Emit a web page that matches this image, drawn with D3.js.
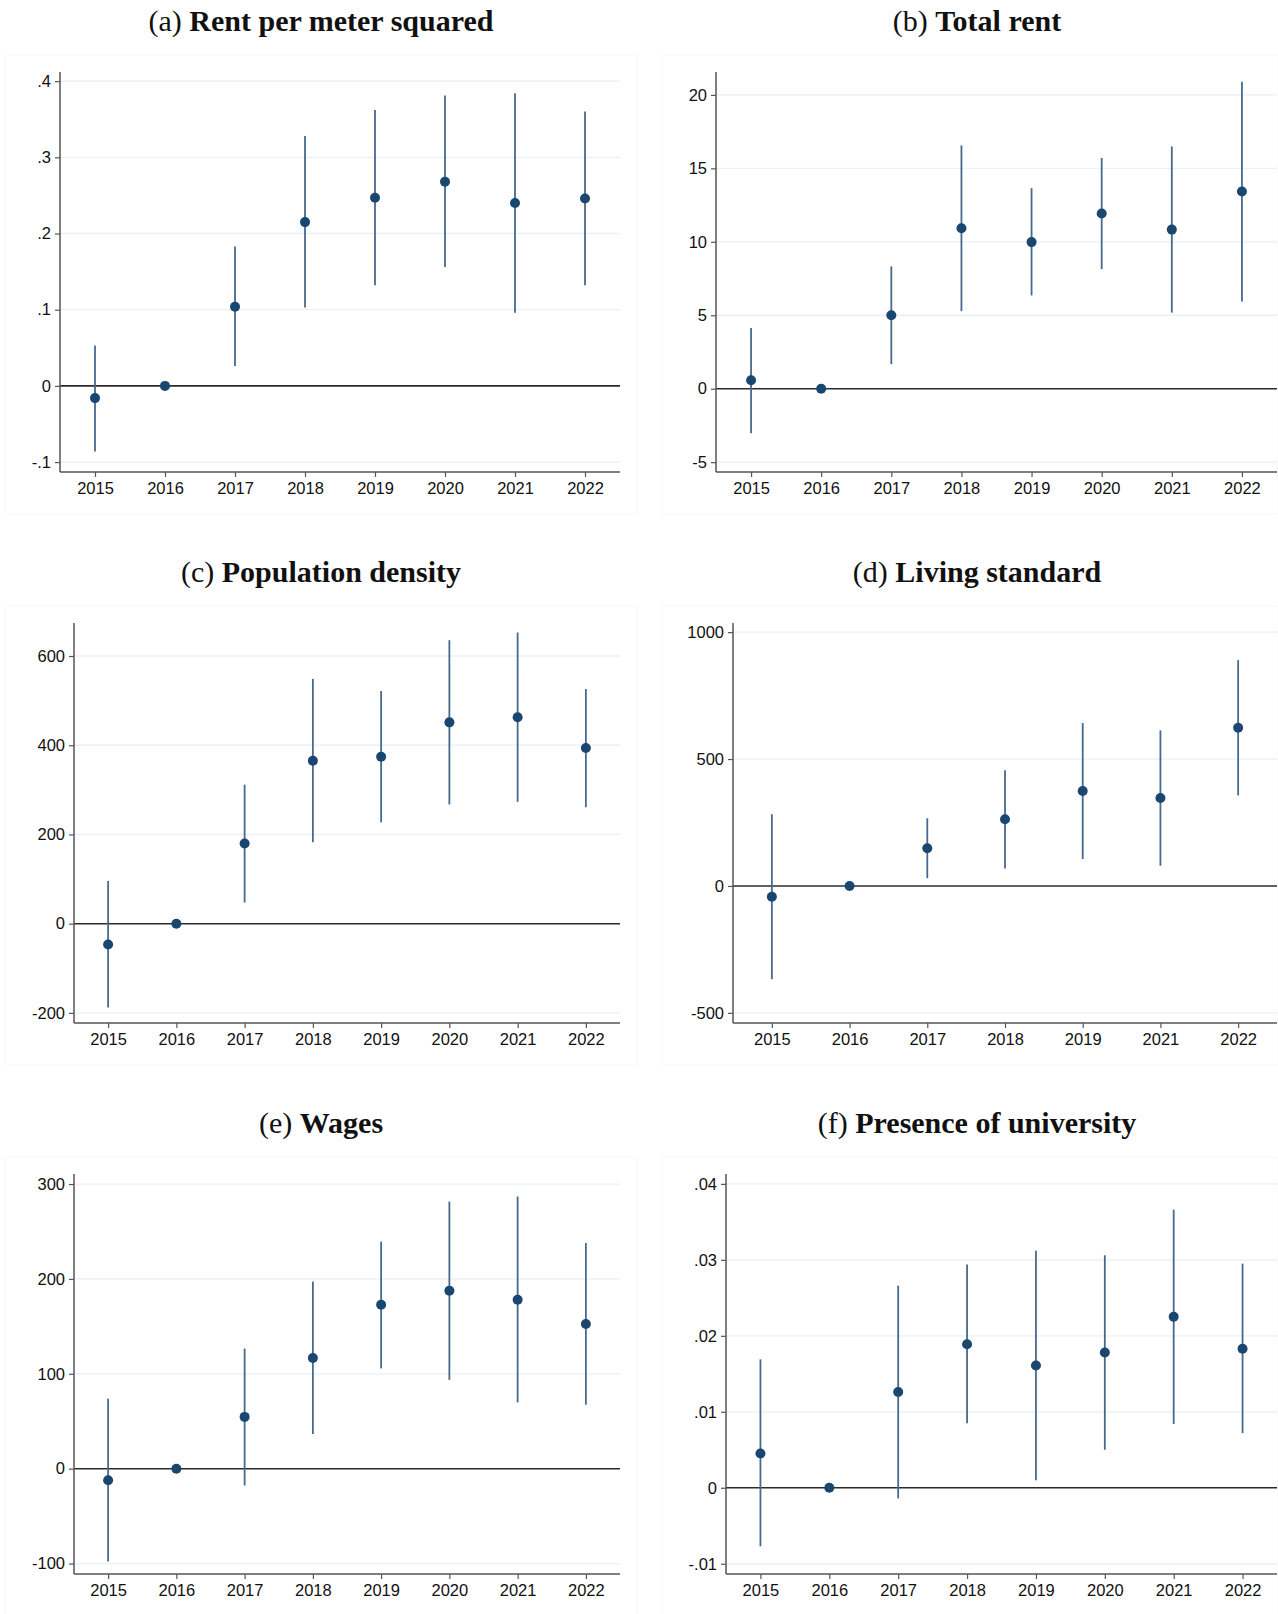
<!DOCTYPE html>
<html><head><meta charset="utf-8">
<script src="https://cdn.jsdelivr.net/npm/d3@7"></script>
<style>body{margin:0;background:#fff} svg{display:block}</style>
</head><body>
<svg id="chart" width="1278" height="1614"></svg>
<script>
// ---------- data ----------
const years = ["2015","2016","2017","2018","2019","2020","2021","2022"];
const yearsLiving = ["2015","2016","2017","2018","2019","2021","2022"];

const panelLetters = ["(a)","(b)","(c)","(d)","(e)","(f)"];
const panelNames = ["Rent per meter squared","Total rent","Population density","Living standard","Wages","Presence of university"];

const rentSqmEst = [-0.016, 0, 0.104, 0.215, 0.247, 0.268, 0.240, 0.246];
const rentSqmLo  = [-0.086, 0, 0.026, 0.103, 0.132, 0.156, 0.096, 0.132];
const rentSqmHi  = [ 0.053, 0, 0.183, 0.328, 0.362, 0.381, 0.384, 0.360];
const rentSqmTicks = [-0.1, 0, 0.1, 0.2, 0.3, 0.4];
const rentSqmTickLabels = ["-.1","0",".1",".2",".3",".4"];
const rentSqmRange = [-0.113, 0.412];

const totalRentEst = [0.57, 0, 5.0, 10.92, 9.98, 11.93, 10.83, 13.42];
const totalRentLo  = [-3.03, 0, 1.67, 5.28, 6.35, 8.14, 5.18, 5.94];
const totalRentHi  = [4.13, 0, 8.33, 16.56, 13.65, 15.71, 16.49, 20.89];
const totalRentTicks = [-5, 0, 5, 10, 15, 20];
const totalRentTickLabels = ["-5","0","5","10","15","20"];
const totalRentRange = [-5.67, 21.56];

const popDensityEst = [-46.8, 0, 179.6, 365.3, 374.3, 451.3, 462.6, 394];
const popDensityLo  = [-187.9, 0, 47.5, 182.6, 227.2, 267.2, 273.2, 261.1];
const popDensityHi  = [95.8, 0, 311.7, 548.7, 521.5, 635.5, 652.8, 526];
const popDensityTicks = [-200, 0, 200, 400, 600];
const popDensityTickLabels = ["-200","0","200","400","600"];
const popDensityRange = [-222.6, 674];

const livingEst = [-42.4, 0, 148.5, 262.6, 374, 346.2, 623.3];
const livingLo  = [-367.4, 0, 30.5, 69, 106.1, 79.6, 356.8];
const livingHi  = [282.5, 0, 266.6, 456.2, 641.9, 612.7, 889.9];
const livingTicks = [-500, 0, 500, 1000];
const livingTickLabels = ["-500","0","500","1000"];
const livingRange = [-540, 1036];

const wagesEst = [-12.1, 0, 54.6, 116.7, 172.7, 187.6, 178, 152.5];
const wagesLo  = [-97.8, 0, -17.7, 36.5, 105.7, 93.6, 69.9, 67.4];
const wagesHi  = [73.8, 0, 126.6, 197.2, 239.4, 281.6, 286.9, 237.9];
const wagesTicks = [-100, 0, 100, 200, 300];
const wagesTickLabels = ["-100","0","100","200","300"];
const wagesRange = [-111, 310.6];

const univEst = [0.0045, 0, 0.0126, 0.0189, 0.0161, 0.0178, 0.0225, 0.0183];
const univLo  = [-0.0077, 0, -0.0014, 0.0085, 0.0010, 0.0050, 0.0084, 0.0072];
const univHi  = [0.0169, 0, 0.0266, 0.0294, 0.0312, 0.0306, 0.0366, 0.0295];
const univTicks = [-0.01, 0, 0.01, 0.02, 0.03, 0.04];
const univTickLabels = ["-.01","0",".01",".02",".03",".04"];
const univRange = [-0.01135, 0.0413];

// ---------- panel table built from the arrays ----------
const panels = [
  {cats: years,       est: rentSqmEst,    lo: rentSqmLo,    hi: rentSqmHi,    ticks: rentSqmTicks,    labels: rentSqmTickLabels,    range: rentSqmRange},
  {cats: years,       est: totalRentEst,  lo: totalRentLo,  hi: totalRentHi,  ticks: totalRentTicks,  labels: totalRentTickLabels,  range: totalRentRange},
  {cats: years,       est: popDensityEst, lo: popDensityLo, hi: popDensityHi, ticks: popDensityTicks, labels: popDensityTickLabels, range: popDensityRange},
  {cats: yearsLiving, est: livingEst,     lo: livingLo,     hi: livingHi,     ticks: livingTicks,     labels: livingTickLabels,     range: livingRange},
  {cats: years,       est: wagesEst,      lo: wagesLo,      hi: wagesHi,      ticks: wagesTicks,      labels: wagesTickLabels,      range: wagesRange},
  {cats: years,       est: univEst,       lo: univLo,       hi: univHi,       ticks: univTicks,       labels: univTickLabels,       range: univRange}
];

// ---------- layout ----------
const rowStep = 551;
const axisLeft = [60, 716, 74, 733, 74, 726];
const plotRight = [620, 1277];
const frameX = [[5, 637], [662, 1278]];
const titleCx = [321, 977];

const svg = d3.select("#chart");
svg.append("rect").attr("width",1278).attr("height",1614).attr("fill","#fff");

panels.forEach((p, i) => {
  const col = i % 2, row = Math.floor(i / 2);
  const top = 72 + row * rowStep, bottom = 472 + row * rowStep;
  const left = axisLeft[i], right = plotRight[col];
  const g = svg.append("g");

  // graph region frame (very faint)
  g.append("rect")
    .attr("x", frameX[col][0]).attr("y", 55 + row * rowStep)
    .attr("width", frameX[col][1] - frameX[col][0]).attr("height", 459)
    .attr("fill", "none").attr("stroke", "#f7f7f7").attr("stroke-width", 1);

  // title
  const t = g.append("text")
    .attr("x", titleCx[col]).attr("y", 31 + row * rowStep)
    .attr("text-anchor", "middle")
    .style("font-family", "'Liberation Serif', 'Times New Roman', serif")
    .style("font-size", "30px").attr("fill", "#111");
  t.append("tspan").text(panelLetters[i] + " ");
  t.append("tspan").style("font-weight", "bold").text(panelNames[i]);

  const x = d3.scalePoint().domain(p.cats).range([left, right]).padding(0.5);
  const y = d3.scaleLinear().domain(p.range).range([bottom, top]);

  // gridlines
  g.selectAll(".grid").data(p.ticks.filter(v => v !== 0)).join("line")
    .attr("x1", left).attr("x2", right)
    .attr("y1", d => y(d)).attr("y2", d => y(d))
    .attr("stroke", "#eaf0f3").attr("stroke-width", 1.3);

  // zero line
  g.append("line").attr("x1", left).attr("x2", right)
    .attr("y1", y(0)).attr("y2", y(0))
    .attr("stroke", "#2b2b2b").attr("stroke-width", 1.6);

  // axes
  const yAxis = d3.axisLeft(y).tickValues(p.ticks)
    .tickFormat((d, k) => p.labels[k]).tickSize(5).tickPadding(4);
  const ya = g.append("g").attr("transform", `translate(${left},0)`).call(yAxis);
  const xAxis = d3.axisBottom(x).tickSize(5).tickPadding(5);
  const xa = g.append("g").attr("transform", `translate(0,${bottom})`).call(xAxis);
  [ya, xa].forEach(a => {
    a.select(".domain").attr("stroke", "#555").attr("stroke-width", 1.5)
      .attr("d", a === ya ? `M0,${top}V${bottom}` : `M${left},0H${right}`);
    a.selectAll(".tick line").attr("stroke", "#555").attr("stroke-width", 1.2);
    a.selectAll(".tick text").attr("fill", "#111")
      .style("font-family", "'Liberation Sans', Arial, sans-serif").style("font-size", "16.5px");
  });

  // confidence intervals
  const idx = d3.range(p.cats.length).filter(k => p.hi[k] !== p.lo[k]);
  g.selectAll(".ci").data(idx).join("line")
    .attr("x1", k => x(p.cats[k])).attr("x2", k => x(p.cats[k]))
    .attr("y1", k => y(p.lo[k])).attr("y2", k => y(p.hi[k]))
    .attr("stroke", "#47698b").attr("stroke-width", 1.8);

  // point estimates
  g.selectAll(".pt").data(d3.range(p.cats.length)).join("circle")
    .attr("cx", k => x(p.cats[k])).attr("cy", k => y(p.est[k]))
    .attr("r", 5).attr("fill", "#1a476f");
});
</script>
</body></html>
